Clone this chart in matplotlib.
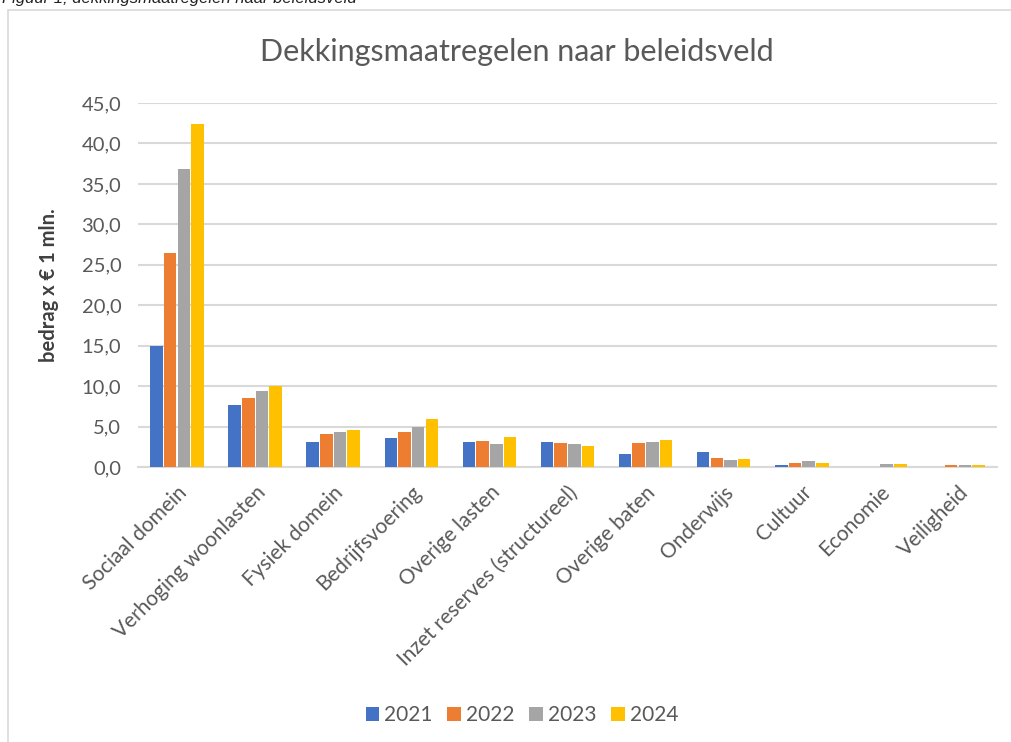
import matplotlib
matplotlib.use("Agg")
import matplotlib.pyplot as plt
import numpy as np
from matplotlib.patches import Rectangle

categories = ["Sociaal domein", "Verhoging woonlasten", "Fysiek domein", "Bedrijfsvoering",
              "Overige lasten", "Inzet reserves (structureel)", "Overige baten", "Onderwijs",
              "Cultuur", "Economie", "Veiligheid"]
years = ["2021", "2022", "2023", "2024"]
v2021 = [15.0, 7.7, 3.1, 3.6, 3.1, 3.1, 1.6, 1.8, 0.25, 0.0, 0.0]
v2022 = [26.5, 8.5, 4.1, 4.3, 3.2, 3.0, 3.0, 1.15, 0.55, 0.0, 0.25]
v2023 = [36.9, 9.4, 4.3, 5.0, 2.9, 2.8, 3.1, 0.85, 0.7, 0.4, 0.25]
v2024 = [42.4, 10.0, 4.6, 5.9, 3.7, 2.6, 3.3, 1.0, 0.5, 0.4, 0.25]
yticks = [0, 5, 10, 15, 20, 25, 30, 35, 40, 45]

series = [v2021, v2022, v2023, v2024]
colors = ["#4472C4", "#ED7D31", "#A5A5A5", "#FFC000"]
txt = "#595959"
plt.rcParams['font.family'] = ['Lato', 'DejaVu Sans']

fig = plt.figure(figsize=(10.11, 7.42), dpi=100)
fig.patch.set_facecolor("white")
# chart border
fig.patches.append(Rectangle((8/1011, -0.01), 1.0, 1 - 10/742 + 0.01, transform=fig.transFigure,
                             fill=False, edgecolor="#d9d9d9", linewidth=1.2))
fig.text(0.002, 1.012, "Figuur 1; dekkingsmaatregelen naar beleidsveld", fontsize=12,
         style="italic", family=["Liberation Sans"], va="top", ha="left", color="#222222")

ax = fig.add_axes([138/1011, 1 - 467/742, (997 - 138)/1011, (467 - 103)/742])
x = np.arange(len(categories))
w = 0.175
for i, (vals, c, yr) in enumerate(zip(series, colors, years)):
    ax.bar(x + (i - 1.5) * w, vals, width=w * 0.92, color=c, label=yr, zorder=3)

ax.set_xlim(-0.5, len(categories) - 0.5)
ax.set_ylim(0, 45)
ax.set_yticks(yticks)
ax.set_yticklabels([f"{t:.1f}".replace(".", ",") for t in yticks], fontsize=14.5, color=txt)
ax.yaxis.grid(True, color="#d9d9d9", linewidth=1.5, zorder=0)
ax.tick_params(axis="y", length=0, pad=12)
ax.tick_params(axis="x", length=0, pad=11)
for s in ["top", "right", "left"]:
    ax.spines[s].set_visible(False)
ax.spines["bottom"].set_color("#d9d9d9")
ax.spines["bottom"].set_linewidth(1.5)
ax.set_xticks(x)
ax.set_xticklabels(categories, rotation=45, ha="right", va="top", rotation_mode="anchor",
                   fontsize=15, color=txt)
ax.set_ylabel("bedrag x € 1 mln.", fontsize=14.5, color="#404040", labelpad=16, fontweight="bold")

fig.text(517/1011, 1 - 52/742, "Dekkingsmaatregelen naar beleidsveld", fontsize=22, color=txt,
         ha="center", va="center")

ax.legend(loc="center", bbox_to_anchor=(522/1011, 1 - 715/742), bbox_transform=fig.transFigure,
          ncol=4, frameon=False, fontsize=15, handlelength=0.65, handleheight=0.65,
          handletextpad=0.25, columnspacing=0.7, labelcolor=txt)

fig.savefig("out.png", dpi=100, facecolor="white")
